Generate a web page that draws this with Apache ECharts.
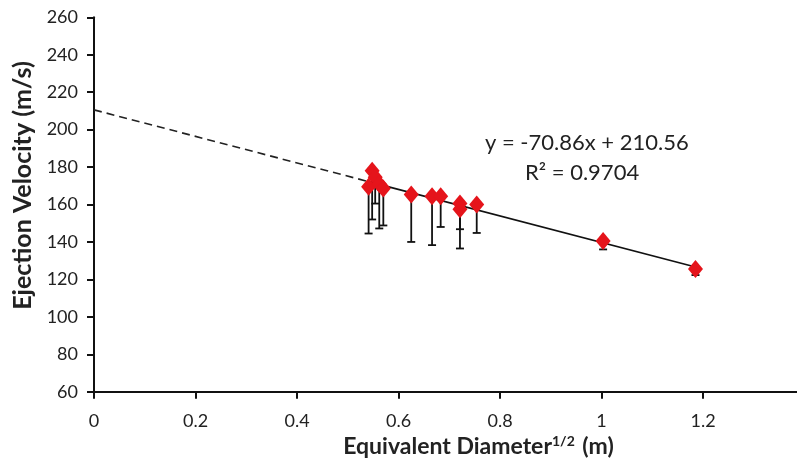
<!DOCTYPE html>
<html>
<head>
<meta charset="utf-8">
<script src="https://cdn.jsdelivr.net/npm/echarts@6/dist/echarts.min.js"></script>
<style>
  html, body { margin: 0; padding: 0; background: #fff; }
  #chart { width: 797px; height: 458px; }
</style>
</head>
<body>
<div id="chart"></div>
<script>
// measured points: x = sqrt(equivalent diameter), y = ejection velocity, low = lower error bar end
var diam = [0.541, 0.548, 0.554, 0.562, 0.570, 0.625, 0.666, 0.683, 0.721, 0.721, 0.754, 1.003, 1.185];
var velocity = [169.5, 178, 174.5, 171, 168.5, 165.3, 164.4, 164.4, 160.5, 157.5, 160, 140.5, 125.5];
var lowEnd = [144.5, 152, 160.5, 147.2, 148.8, 140, 138.3, 148, 136.5, 146.8, 144.8, 136, 122.3];

// fitted trend line y = slope * x + intercept
var slope = -70.86;
var intercept = 210.56;
var xTicks = [0, 0.2, 0.4, 0.6, 0.8, 1, 1.2];

var font = 'Lato, "Open Sans", sans-serif';

var pts = diam.map(function (d, i) { return [d, velocity[i]]; });
var bars = diam.map(function (d, i) { return [d, velocity[i], lowEnd[i]]; });

var xFirst = Math.min.apply(null, diam);
var xLast = Math.max.apply(null, diam);
function fit(x) { return [x, slope * x + intercept]; }

var chart = echarts.init(document.getElementById('chart'));
var option = {
  animation: false,
  grid: { left: 94, right: 0, top: 17.3, bottom: 66.3, containLabel: false, outerBoundsMode: 'none' },
  xAxis: {
    type: 'value',
    min: 0,
    max: 1.385,
    interval: 0.2,
    name: 'Equivalent Diameter{sup|1/2} (m)',
    nameLocation: 'middle',
    nameGap: 41,
    nameTextStyle: {
      fontFamily: font, fontSize: 23, fontWeight: 'bold', color: '#222',
      padding: [0, 0, 0, 66],
      rich: { sup: { fontFamily: font, fontSize: 14, fontWeight: 'bold', color: '#222', verticalAlign: 'top', padding: [0, 2, 9, 0] } }
    },
    axisLine: { lineStyle: { color: '#111', width: 2 } },
    axisTick: { length: 7, lineStyle: { color: '#111', width: 2 } },
    axisLabel: {
      margin: 20, fontFamily: font, fontSize: 18, color: '#222',
      showMaxLabel: false,
      formatter: function (v) { return xTicks.indexOf(Math.round(v * 10) / 10) >= 0 ? String(Math.round(v * 10) / 10) : ''; }
    },
    splitLine: { show: false }
  },
  yAxis: {
    type: 'value',
    min: 60,
    max: 260,
    interval: 20,
    name: 'Ejection Velocity (m/s)',
    nameLocation: 'middle',
    nameGap: 54,
    nameTextStyle: { fontFamily: font, fontSize: 25, fontWeight: 'bold', color: '#222', padding: [0, 0, 0, 38] },
    axisLine: { show: true, lineStyle: { color: '#111', width: 2 } },
    axisTick: { show: true, length: 7, lineStyle: { color: '#111', width: 2 } },
    axisLabel: { margin: 16, fontFamily: font, fontSize: 18, color: '#222' },
    splitLine: { show: false }
  },
  series: [
    {
      type: 'line',
      data: [fit(0), fit(xFirst)],
      symbol: 'none',
      lineStyle: { color: '#222', width: 1.6, type: [8, 5] },
      z: 2
    },
    {
      type: 'line',
      data: [fit(xFirst), fit(xLast)],
      symbol: 'none',
      lineStyle: { color: '#111', width: 1.6 },
      z: 2
    },
    {
      type: 'custom',
      data: bars,
      z: 3,
      renderItem: function (params, api) {
        var top = api.coord([api.value(0), api.value(1)]);
        var bot = api.coord([api.value(0), api.value(2)]);
        var st = { stroke: '#111', lineWidth: 1.8 };
        return {
          type: 'group',
          children: [
            { type: 'line', shape: { x1: top[0], y1: top[1], x2: bot[0], y2: bot[1] }, style: st },
            { type: 'line', shape: { x1: bot[0] - 4, y1: bot[1], x2: bot[0] + 4, y2: bot[1] }, style: st }
          ]
        };
      }
    },
    {
      type: 'scatter',
      data: pts,
      symbol: 'diamond',
      symbolSize: [15, 18],
      itemStyle: { color: '#e5141b', opacity: 1 },
      z: 4
    }
  ],
  graphic: [
    {
      type: 'text', x: 485, y: 143,
      style: { text: 'y = -70.86x + 210.56', font: '22px Lato, "Open Sans", sans-serif', fill: '#222', verticalAlign: 'middle' }
    },
    {
      type: 'text', x: 525, y: 173,
      style: { text: 'R² = 0.9704', font: '22px Lato, "Open Sans", sans-serif', fill: '#222', verticalAlign: 'middle' }
    }
  ]
};
option && chart.setOption(option);
</script>
</body>
</html>
